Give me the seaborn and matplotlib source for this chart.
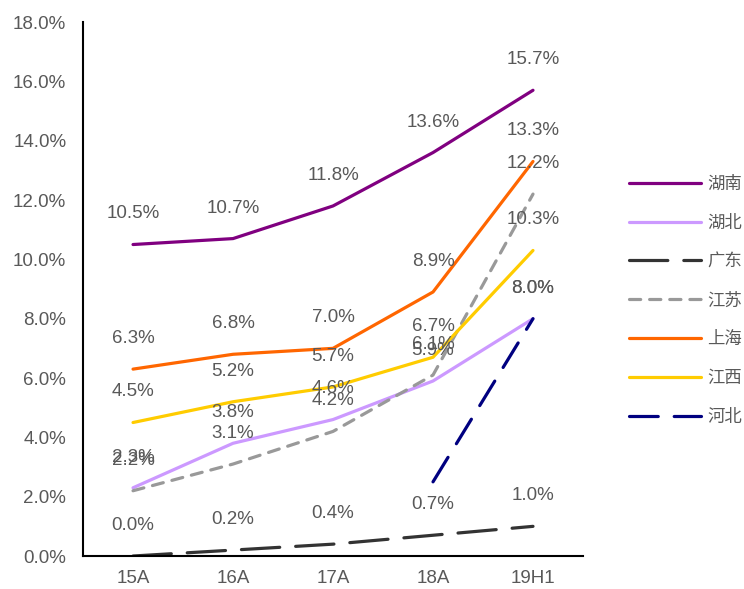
import numpy as np
import matplotlib
matplotlib.use("Agg")
import matplotlib.pyplot as plt
import seaborn as sns
from matplotlib.ticker import FuncFormatter, FixedLocator

sns.set_style("white")
plt.rcParams['font.family'] = ['Liberation Sans', 'Noto Sans CJK SC', 'DejaVu Sans']

periods = ['15A', '16A', '17A', '18A', '19H1']
series_names = ['湖南', '湖北', '广东', '江苏', '上海', '江西', '河北']

hunan = [10.5, 10.7, 11.8, 13.6, 15.7]
hubei = [2.3, 3.8, 4.6, 5.9, 8.0]
guangdong = [0.0, 0.2, 0.4, 0.7, 1.0]
jiangsu = [2.2, 3.1, 4.2, 6.1, 12.2]
shanghai = [6.3, 6.8, 7.0, 8.9, 13.3]
jiangxi = [4.5, 5.2, 5.7, 6.7, 10.3]
hebei = [np.nan, np.nan, np.nan, 2.5, 8.0]

values = [hunan, hubei, guangdong, jiangsu, shanghai, jiangxi, hebei]
colors = ['#800080', '#CC99FF', '#333333', '#999999', '#FF6600', '#FFCC00', '#000080']
dash_styles = ['-', '-', (0, (12, 5)), (0, (3.5, 2.8)), '-', '-', (0, (9, 5))]
# labels shown in the reference (河北 18A has none)
show_label = [[True] * 5] * 6 + [[False, False, False, False, True]]

fig = plt.figure(figsize=(7.44, 5.89), dpi=100)
ax = fig.add_axes([0.1116, 0.056, 0.672, 0.9066])

x = np.arange(len(periods))
text_color = '#595959'

for name, vals, c, ls, show in zip(series_names, values, colors, dash_styles, show_label):
    sns.lineplot(x=x, y=vals, ax=ax, color=c, linewidth=2.3, label=name,
                 linestyle=ls if isinstance(ls, str) else '-')
    line = ax.get_lines()[-1]
    if not isinstance(ls, str):
        line.set_dashes(ls[1])
    line.set_dash_capstyle('round')
    line.set_solid_capstyle('round')
    for xi, v, s in zip(x, vals, show):
        if s and not np.isnan(v):
            ax.annotate(f'{v:.1f}%', (xi, v), xytext=(0, 22), textcoords='offset points',
                        ha='center', va='center', fontsize=13.5, color=text_color)

ax.set_xlim(-0.5, 4.5)
ax.set_ylim(0, 18)
ax.set_yticks(np.arange(0, 18.1, 2))
ax.yaxis.set_major_formatter(FuncFormatter(lambda v, p: f'{v:.1f}%'))
ax.set_xticks(x)
ax.set_xticklabels(periods)
ax.xaxis.set_minor_locator(FixedLocator(np.arange(-0.5, 4.6, 1)))
ax.tick_params(axis='x', which='major', length=0, pad=10, labelsize=13.5, labelcolor=text_color)
ax.tick_params(axis='x', which='minor', length=5, width=1.3, direction='out', color='black')
ax.tick_params(axis='y', length=5, width=1.3, direction='out', color='black',
               labelsize=13.5, labelcolor=text_color, pad=7)

for side in ['top', 'right']:
    ax.spines[side].set_visible(False)
for side in ['left', 'bottom']:
    ax.spines[side].set_color('black')
    ax.spines[side].set_linewidth(1.5)
ax.grid(False)

handles, labels = ax.get_legend_handles_labels()
ax.legend(handles, labels, loc='center left', bbox_to_anchor=(0.825, 0.49),
          bbox_transform=fig.transFigure, frameon=False,
          handlelength=4.1, labelspacing=1.2, handletextpad=0.4,
          prop={'family': 'Noto Sans CJK SC', 'size': 12.5})
for t in ax.get_legend().get_texts():
    t.set_color(text_color)

fig.savefig('out.png', dpi=100)
